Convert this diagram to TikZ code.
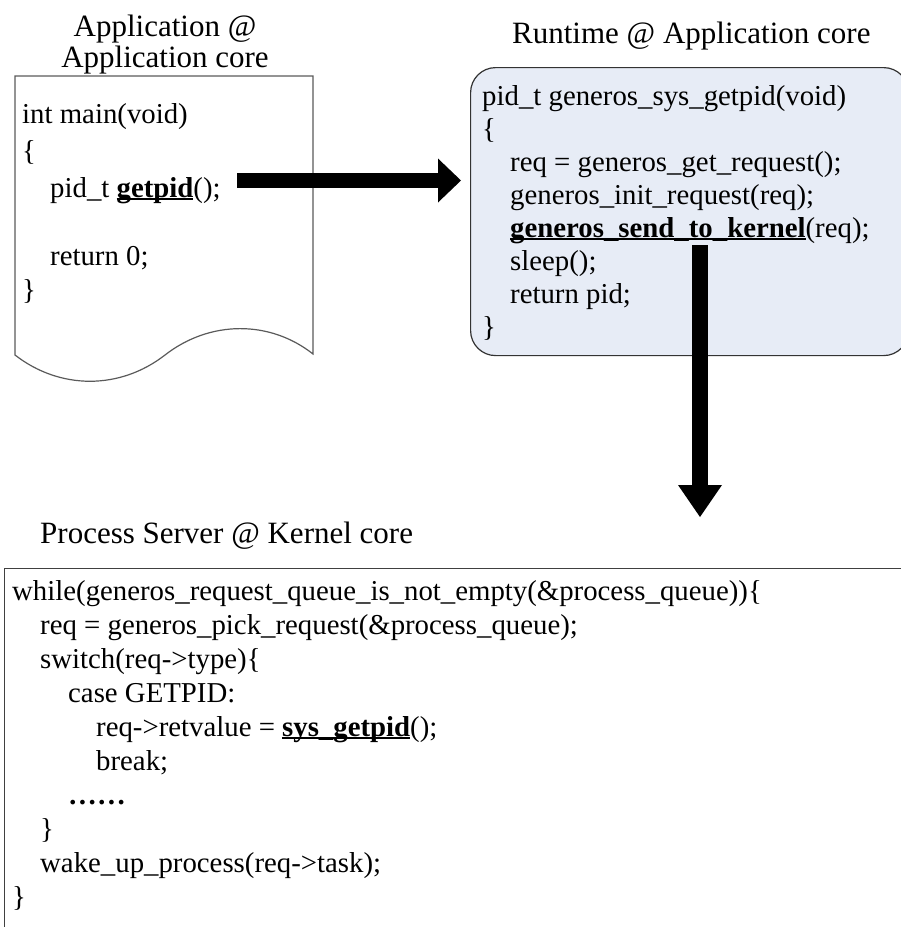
\documentclass[tikz,border=0pt]{standalone}
\usepackage{fontspec}
\setmainfont{Liberation Serif}
\usetikzlibrary{arrows.meta}
\definecolor{rtfill}{RGB}{231,236,246}
\definecolor{edgegray}{RGB}{90,90,90}
\newcommand\myul[1]{\setbox0\hbox{#1}\rlap{\rule[-0.12em]{\wd0}{0.07em}}\box0}
\tikzset{
  titletext/.style={font=\fontsize{31}{37}\selectfont, inner sep=0pt, anchor=base},
  titlewest/.style={font=\fontsize{31}{37}\selectfont, inner sep=0pt, anchor=base west},
  codeline/.style={font=\fontsize{28.8}{34}\selectfont, inner sep=0pt, anchor=base west},
  docline/.style={draw=edgegray, line width=1.2pt, fill=white},
  rtbox/.style={draw=black!80, line width=1.2pt, fill=rtfill, rounded corners=25pt, inner sep=0pt},
  psbox/.style={draw=black!75, line width=1.4pt, inner sep=0pt},
  blockarrow/.style={line width=15pt, black},
}
\begin{document}
\begin{tikzpicture}[x=1pt,y=-1pt]
\useasboundingbox (0,0) rectangle (901,927);
\clip (0,0) rectangle (901,927);
% document shape (Application)
\draw[docline] (15,76) -- (313,76) -- (313,354)
  .. controls (270,320) and (210,320) .. (165,355)
  .. controls (120,390) and (60,390) .. (15,355) -- cycle;
\node[titletext] (t1a) at (165,36) {Application @};
\node[titletext] (t1b) at (165,67) {Application core};
\node[codeline] (a1) at (22,123) {int main(void)};
\node[codeline] (a2) at (22,160) {\{};
\node[codeline] (a3) at (50,197) {pid\_t \myul{\textbf{getpid}}();};
\node[codeline] (a4) at (50,265) {return 0;};
\node[codeline] (a5) at (22,299) {\}};
% runtime box
\node[rtbox, anchor=north west, minimum width=438pt, minimum height=288pt] (rt) at (470,67) {};
\node[titlewest] (t2) at (512,43) {Runtime @ Application core};
\node[codeline] (r1) at (482,105) {pid\_t generos\_sys\_getpid(void)};
\node[codeline] (r2) at (482,138) {\{};
\node[codeline] (r3) at (510,171) {req = generos\_get\_request();};
\node[codeline] (r4) at (510,204) {generos\_init\_request(req);};
\node[codeline] (r5) at (510,237) {\myul{\textbf{generos\_send\_to\_kernel}}(req);};
\node[codeline] (r6) at (510,270) {sleep();};
\node[codeline] (r7) at (510,303) {return pid;};
\node[codeline] (r8) at (482,336) {\}};
% process server box
\node[psbox, anchor=north west, minimum width=920pt, minimum height=400pt] (ps) at (4,568) {};
\node[titlewest] (t3) at (40,543) {Process Server @ Kernel core};
\node[codeline] (p1) at (12,600) {while(generos\_request\_queue\_is\_not\_empty(\&process\_queue))\{};
\node[codeline] (p2) at (40,634) {req = generos\_pick\_request(\&process\_queue);};
\node[codeline] (p3) at (40,668) {switch(req->type)\{};
\node[codeline] (p4) at (68,702) {case GETPID:};
\node[codeline] (p5) at (96,736) {req->retvalue = \myul{\textbf{sys\_getpid}}();};
\node[codeline] (p6) at (96,770) {break;};
\node[codeline] (p7) at (68,804) {\textbf{……}};
\node[codeline] (p8) at (40,838) {\}};
\node[codeline] (p9) at (40,872) {wake\_up\_process(req->task);};
\node[codeline] (p10) at (12,906) {\}};
% block arrows
\coordinate (h1) at (237,180.5);
\coordinate (h2) at (461,180.5);
\draw[blockarrow, -{Triangle[width=44pt,length=23pt,line width=0pt]}] (h1) -- (h2);
\coordinate (v1) at (700,245);
\coordinate (v2) at (700,517);
\draw[blockarrow, line width=16pt, -{Triangle[width=44pt,length=32pt,line width=0pt]}] (v1) -- (v2);
\end{tikzpicture}
\end{document}
